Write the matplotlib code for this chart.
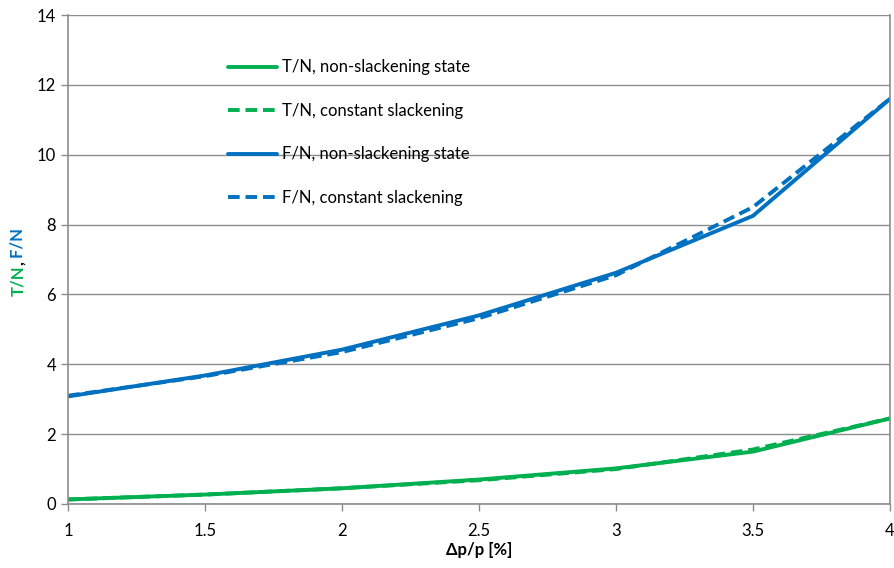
import matplotlib
matplotlib.use("Agg")
import matplotlib.pyplot as plt
from matplotlib.ticker import MultipleLocator
from matplotlib.patches import Rectangle

plt.rcParams['font.family'] = ['Lato', 'DejaVu Sans']

x = [1, 1.5, 2, 2.5, 3, 3.5, 4]
T_non = [0.13, 0.27, 0.45, 0.70, 1.02, 1.50, 2.45]
T_const = [0.13, 0.27, 0.45, 0.68, 1.00, 1.56, 2.45]
F_non = [3.08, 3.68, 4.42, 5.40, 6.62, 8.25, 11.60]
F_const = [3.10, 3.66, 4.35, 5.32, 6.55, 8.50, 11.60]

labels = ["T/N, non-slackening state", "T/N, constant slackening",
          "F/N, non-slackening state", "F/N, constant slackening"]

green = "#00B050"
blue = "#0070C0"
gray = "#8C8C8C"

fig = plt.figure(figsize=(8.94, 5.68), dpi=100)
ax = fig.add_axes([68/894, 64/568, (890-68)/894, (504-15)/568])

lw = 2.8
ax.plot(x, T_non, color=green, lw=lw, label=labels[0], solid_capstyle='round')
ax.plot(x, T_const, color=green, lw=lw, ls=(0, (3, 1.5)), label=labels[1])
ax.plot(x, F_non, color=blue, lw=lw, label=labels[2], solid_capstyle='round')
ax.plot(x, F_const, color=blue, lw=lw, ls=(0, (3, 1.5)), label=labels[3])

ax.set_xlim(1, 4)
ax.set_ylim(0, 14)
ax.yaxis.set_major_locator(MultipleLocator(2))
ax.set_xticks(x)
ax.set_xticklabels(["1", "1.5", "2", "2.5", "3", "3.5", "4"])
ax.grid(axis='y', color=gray, lw=1.0, zorder=0)
ax.set_axisbelow(True)
ax.spines['top'].set_visible(False)
for s in ['left', 'bottom', 'right']:
    ax.spines[s].set_color(gray)
    ax.spines[s].set_linewidth(1.2)
ax.tick_params(axis='both', colors=gray, labelcolor='black', labelsize=12,
               length=5, width=1)
ax.tick_params(axis='x', pad=9)

ax.set_xlabel("Δp/p [%]", fontsize=12, fontweight='bold', labelpad=2)

# white legend background area
bg = Rectangle((178/894, 1 - 215/568), (528-178)/894, (215-40)/568,
               transform=fig.transFigure, facecolor='white', edgecolor='none',
               zorder=0.5)
ax.add_patch(bg)

t1 = fig.text(0.02, 1 - 296/568, "T/N", color=green, fontsize=12,
              fontweight='bold', rotation=90, ha='center', va='bottom')
t2 = ax.annotate(",", xy=(0.5, 1), xycoords=t1, color='black', fontsize=12,
                 fontweight='bold', rotation=90, ha='center', va='bottom',
                 annotation_clip=False)
t3 = ax.annotate(" F/N", xy=(0.5, 1), xycoords=t2, color=blue, fontsize=12,
                 fontweight='bold', rotation=90, ha='center', va='bottom',
                 annotation_clip=False)

leg = ax.legend(loc='upper left', bbox_to_anchor=(220/894, 1 - 51/568),
                bbox_transform=fig.transFigure, fontsize=12, frameon=False,
                handlelength=2.9, handletextpad=0.3, labelspacing=1.65,
                borderpad=0.5, borderaxespad=0)

fig.savefig("out.png", dpi=100)
